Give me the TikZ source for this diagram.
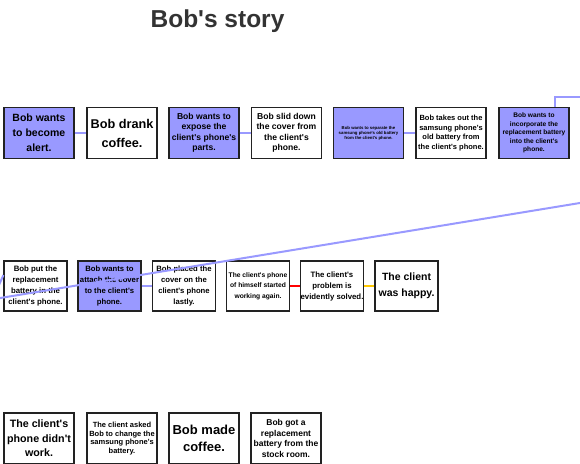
\documentclass[tikz,border=0pt]{standalone}
\usepackage{fontspec}
\setmainfont{Liberation Sans}
\usetikzlibrary{calc}
\definecolor{boxblue}{HTML}{9999FF}
\definecolor{linkblue}{HTML}{9999FF}
\definecolor{linkred}{HTML}{FF0000}
\definecolor{linkgold}{HTML}{FFC800}
\definecolor{titlegray}{HTML}{333333}
\definecolor{edgegray}{HTML}{222222}
\newcommand\myfs[2]{\fontsize{#1}{#2}\selectfont\bfseries}
\newcommand\apo{\textquotesingle}
\tikzset{
  storybox/.style={draw=edgegray, line width=1.1pt, inner sep=0pt, align=center,
    minimum height=51pt},
  wide/.style={storybox, minimum width=70pt},
  narrow/.style={storybox, minimum width=63pt, minimum height=50pt},
  goal/.style={fill=boxblue},
  act/.style={fill=white},
  link/.style={line width=2pt, color=linkblue},
}
\begin{document}
\begin{tikzpicture}[x=1pt,y=-1pt]
\useasboundingbox (0,0) rectangle (580,463);
\clip (0,0) rectangle (580,463);
\fill[white] (0,0) rectangle (580,463);

\node[anchor=base, text=titlegray, font={\myfs{24.5}{28}}] (title) at (217.5,27) {Bob\apo s story};

% row 1
\node[wide,goal,font={\myfs{10.5}{15}}] (a1) at (39,133) {Bob wants\\to become\\alert.};
\node[wide,act,font={\myfs{12.7}{19}}] (a2) at (122,133) {Bob drank\\coffee.};
\node[wide,goal,font={\myfs{8.6}{10.5}}] (a3) at (204,133) {Bob wants to\\expose the\\client\apo s phone\apo s\\parts.};
\node[wide,act,font={\myfs{8.6}{10.5}}] (a4) at (286.5,133) {Bob slid down\\the cover from\\the client\apo s\\phone.};
\node[wide,goal,font={\myfs{4.3}{5}}] (a5) at (368.5,133) {Bob wants to separate the\\samsung phone\apo s old battery\\from the client\apo s phone.};
\node[wide,act,font={\myfs{7.5}{9.5}}] (a6) at (451,133) {Bob takes out the\\samsung phone\apo s\\old battery from\\the client\apo s phone.};
\node[wide,goal,font={\myfs{6.6}{8.4}}] (a7) at (534,133) {Bob wants to\\incorporate the\\replacement battery\\into the client\apo s\\phone.};

% row 2
\node[narrow,act,font={\myfs{7.8}{11}}] (b1) at (35.5,286) {Bob put the\\replacement\\battery in the\\client\apo s phone.};
\node[narrow,goal,font={\myfs{7.7}{11}}] (b2) at (109.5,286) {Bob wants to\\attach the cover\\to the client\apo s\\phone.};
\node[narrow,act,font={\myfs{7.7}{11}}] (b3) at (184,286) {Bob placed the\\cover on the\\client\apo s phone\\lastly.};
\node[narrow,act,font={\myfs{6.7}{10.5}}] (b4) at (258,286) {The client\apo s phone\\of himself started\\working again.};
\node[narrow,act,font={\myfs{7.8}{11}}] (b5) at (332,286) {The client\apo s\\problem is\\evidently solved.};
\node[narrow,act,font={\myfs{10.5}{16}}] (b6) at (406.5,286) {The client\\was happy.};

% row 3
\node[wide,act,font={\myfs{10.7}{14.5}}] (c1) at (39,438.5) {The client\apo s\\phone didn\apo t\\work.};
\node[wide,act,font={\myfs{7.5}{8.8}}] (c2) at (122,438.5) {The client asked\\Bob to change the\\samsung phone\apo s\\battery.};
\node[wide,act,font={\myfs{13}{17}}] (c3) at (204,438.5) {Bob made\\coffee.};
\node[wide,act,font={\myfs{8.5}{10.7}}] (c4) at (286,438.5) {Bob got a\\replacement\\battery from the\\stock room.};

% off-canvas free ends
\coordinate (offTR) at (600,97);
\coordinate (offR) at (600,199.7);
\coordinate (offL) at (-20,301.3);
\coordinate (offBL) at (-10,305);

% connectors
\draw[link] (a1.east) -- (a2.west);
\draw[link] (a3.east) -- (a4.west);
\draw[link] (a5.east) -- (a6.west);
\draw[link] ([xshift=21pt]a7.north) |- (offTR);
\draw[link] (b2.east) -- (b3.west);
\draw[line width=2pt, color=linkred] (b4.east) -- (b5.west);
\draw[line width=2pt, color=linkgold] (b5.east) -- (b6.west);
\draw[link] (offBL) -- ([yshift=11pt]b1.west);
\draw[link] (offR) -- (offL);
\end{tikzpicture}
\end{document}
